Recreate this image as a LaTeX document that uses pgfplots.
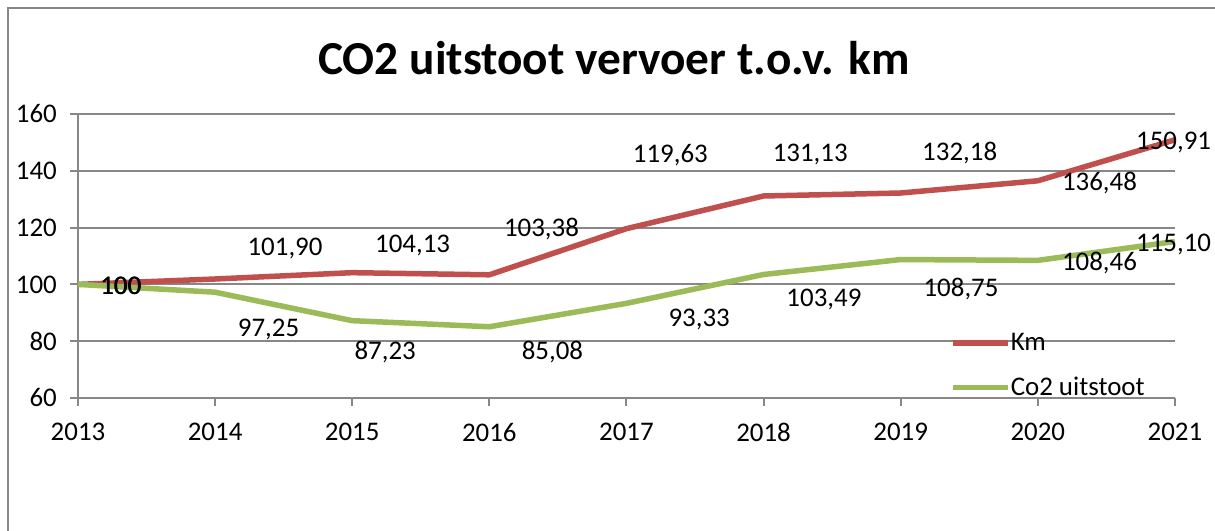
\documentclass[border=0pt]{standalone}
\usepackage{pgfplots}
\pgfplotsset{compat=1.18}
\usepackage{fontspec}
\setmainfont{Carlito}
\definecolor{kmred}{HTML}{C0504D}
\definecolor{co2green}{HTML}{9BBB59}
\definecolor{gridgray}{HTML}{878787}
\newcommand{\lblfont}{\fontsize{27}{32}\selectfont}
\begin{document}
\begin{tikzpicture}
\useasboundingbox (0bp,0bp) rectangle (1215bp,531bp);
\draw[gridgray, line width=2bp] (8bp,-5bp) -- (8bp,523bp) -- (1220bp,523bp);
\node[font=\fontsize{47.5}{52}\selectfont\bfseries, anchor=base, inner sep=0pt] at (614bp,456bp) {CO2 uitstoot vervoer t.o.v. km};
\begin{axis}[
  at={(78bp,133bp)}, anchor=south west,
  scale only axis, width=1097bp, height=284bp,
  xmin=2013, xmax=2021, ymin=60, ymax=160,
  xtick={2013,2014,2015,2016,2017,2018,2019,2020,2021},
  xticklabels={2013,2014,2015,2016,2017,2018,2019,2020,2021},
  ytick={60,80,100,120,140,160},
  yticklabels={60,80,100,120,140,160},
  axis x line*=bottom, axis y line*=left,
  axis line style={gridgray, line width=2bp},
  xtick align=outside, ytick align=outside,
  major tick length=8bp,
  tick style={gridgray, line width=2bp},
  ymajorgrids, grid style={gridgray, line width=2bp},
  every tick label/.append style={font=\lblfont},
  yticklabel style={anchor=east, inner sep=0pt, xshift=-13bp},
  xticklabel style={anchor=north, inner sep=0pt, yshift=-17bp},
  clip=false,
  legend style={at={(axis cs:2019.36,82.75)}, anchor=north west, draw=none, fill=none,
    font=\lblfont, inner sep=0pt, row sep=25bp, nodes={inner sep=0pt}},
  legend cell align=left,
  legend image code/.code={\draw[#1] (0bp,0bp) -- (55bp,0bp);},
]
\addplot[kmred, line width=5.5bp, line join=round] coordinates {
 (2013,100) (2014,101.90) (2015,104.13) (2016,103.38) (2017,119.63)
 (2018,131.13) (2019,132.18) (2020,136.48) (2021,150.91)};
\addlegendentry{Km}
\addplot[co2green, line width=5.5bp, line join=round] coordinates {
 (2013,100) (2014,97.25) (2015,87.23) (2016,85.08) (2017,93.33)
 (2018,103.49) (2019,108.75) (2020,108.46) (2021,115.10)};
\addlegendentry{Co2 uitstoot}
\begin{scope}[every node/.style={font=\lblfont, anchor=base, inner sep=0pt}]
\node at (axis cs:2013.31,96.48) {100};
\node at (axis cs:2013.315,96.6) {100};
\node at (axis cs:2014.51,110.21) {101,90};
\node at (axis cs:2015.44,111.27) {104,13};
\node at (axis cs:2016.38,116.90) {103,38};
\node at (axis cs:2017.32,142.96) {119,63};
\node at (axis cs:2018.34,143.31) {131,13};
\node at (axis cs:2019.43,143.66) {132,18};
\node at (axis cs:2020.45,133.10) {136,48};
\node at (axis cs:2020.99,147.54) {150,91};
\node at (axis cs:2014.39,81.69) {97,25};
\node at (axis cs:2015.24,73.59) {87,23};
\node at (axis cs:2016.46,73.59) {85,08};
\node at (axis cs:2017.53,85.21) {93,33};
\node at (axis cs:2018.44,92.25) {103,49};
\node at (axis cs:2019.44,95.77) {108,75};
\node at (axis cs:2020.45,104.93) {108,46};
\node at (axis cs:2020.99,111.62) {115,10};
\end{scope}
\end{axis}
\end{tikzpicture}
\end{document}
